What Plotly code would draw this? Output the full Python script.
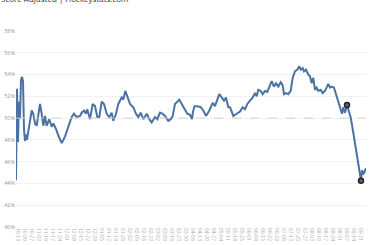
import plotly.graph_objects as go
import pandas as pd

# --- data ---
day = [0, 1, 2, 3, 4, 5, 6, 7, 8, 9, 10, 11, 12, 14, 15.7, 17.3, 19, 20.7, 22.5, 24, 25.7, 27.3, 29, 30.7,
       33.3, 35.7, 37.3, 40, 42.3, 45.7, 49, 52.3, 55.7, 58, 60.7, 64, 65.7, 68, 70, 71.3, 74, 76.7, 79,
       81.3, 83.3, 85.7, 88, 90.7, 93.3, 95.7, 97.3, 100, 102.3, 105.7, 107.3, 109.3, 111.3, 114, 117.3,
       120, 122.3, 124.7, 127.3, 130.7, 133.3, 135.7, 139, 141.3, 144, 146.7, 149, 152.3, 154.7, 156.7,
       159, 161.3, 163.3, 165.7, 169, 171.3, 174, 176, 177, 178.5, 181.3, 184.7, 187.3, 190, 193.3,
       196.7, 199, 201.3, 203.3, 205.7, 208, 210, 212.3, 214, 217.3, 220.7, 224, 226.7, 229, 231.3,
       234, 236.7, 239, 240.7, 242.3, 244.7, 246.7, 249, 251.3, 253.3, 255.7, 258, 260, 262.3, 264.7,
       266.7, 268, 270, 272.3, 274.7, 276.7, 279, 281.3, 283.3, 284.7, 286.7, 288, 290, 292.3, 294,
       295.7, 297.3, 299, 300.7, 302.3, 304.7, 306.7, 309, 310.7, 312.3, 314, 315.7, 318, 320, 322.3,
       324, 326, 327.3, 329, 331, 332.7, 334.7, 336.7, 339, 341.3, 343.3, 345, 346, 347.3, 348.7, 350]
pct = [44.3, 52.7, 47.8, 51.5, 50.0, 53.5, 53.8, 53.4, 49.0, 47.9, 48.5, 48.0, 48.6, 49.8, 50.7, 50.4,
       49.5, 49.3, 50.5, 51.3, 50.4, 49.3, 50.2, 49.3, 49.9, 49.2, 49.5, 49.0, 48.4, 47.7, 48.3, 49.2,
       50.1, 50.4, 50.1, 50.2, 50.5, 50.7, 50.4, 50.8, 49.9, 51.3, 51.1, 50.1, 50.1, 51.5, 51.3, 50.4,
       50.1, 50.5, 49.75, 50.4, 51.3, 51.9, 51.7, 52.5, 51.9, 51.3, 51.0, 50.4, 50.1, 50.5, 49.9, 50.4,
       49.9, 49.6, 50.1, 49.9, 50.5, 50.4, 50.2, 49.75, 49.9, 50.2, 51.3, 51.5, 51.7, 51.3, 50.7, 50.4,
       50.3, 49.9, 50.6, 51.1, 51.1, 51.0, 50.7, 50.2, 50.7, 51.4, 51.1, 51.7, 52.2, 51.9, 51.6, 51.9,
       51.0, 51.0, 50.2, 50.4, 50.6, 51.0, 50.8, 51.3, 51.6, 51.9, 52.3, 52.0, 52.6, 52.5, 52.2, 52.5,
       52.4, 52.9, 53.4, 52.9, 53.2, 52.9, 53.3, 53.0, 52.2, 52.3, 52.2, 52.5, 53.7, 54.3, 54.45, 54.75,
       54.45, 54.6, 54.3, 54.45, 54.0, 53.85, 53.2, 53.7, 52.6, 52.8, 52.5, 52.6, 52.3, 52.5, 52.9,
       53.15, 52.8, 52.9, 52.8, 52.2, 51.4, 51.1, 50.4, 51.0, 50.5, 51.2, 50.7, 50.05, 49.0, 47.6, 46.1,
       45.1, 44.25, 45.2, 44.85, 45.1, 45.4]
marker_days = [331, 345]
marker_pct = [51.2, 44.25]

tick_days = list(range(2, 350, 7))
tick_labels = list(pd.date_range("2020-10-13", periods=len(tick_days), freq="7D").strftime("%m-%d"))
y_ticks = [40, 42, 44, 46, 48, 50, 52, 54, 56, 58]
y_labels = [f"{v}%" for v in y_ticks]

fig = go.Figure()
fig.add_trace(go.Scatter(x=day, y=pct, mode="lines",
                         line=dict(color="#4a72a2", width=2), hoverinfo="skip"))
fig.add_trace(go.Scatter(x=marker_days, y=marker_pct, mode="markers",
                         marker=dict(size=5, color="#666666", line=dict(color="#222222", width=1.5))))
fig.add_hline(y=50, line=dict(color="#d0d0d0", width=1, dash="dash"))

fig.update_layout(
    width=370, height=245, showlegend=False,
    margin=dict(l=16, r=4, t=31, b=16),
    plot_bgcolor="white", paper_bgcolor="white",
    font=dict(family="Open Sans", color="#999999"),
    xaxis=dict(range=[0, 350], tickmode="array", tickvals=tick_days, ticktext=tick_labels,
               tickangle=90, tickfont=dict(size=5, color="#aaaaaa"), showgrid=False,
               zeroline=False, showline=False, ticks=""),
    yaxis=dict(range=[40, 58], tickmode="array", tickvals=y_ticks, ticktext=y_labels,
               tickfont=dict(size=5.5, color="#999999"), gridcolor="#f2f2f2", gridwidth=1,
               zeroline=False, showline=False, ticks=""),
    annotations=[dict(text="Score Adjusted | Hockeystats.com", xref="paper", yref="paper",
                      x=-17/350, y=1 + 25.5/198, xanchor="left", yanchor="bottom", showarrow=False,
                      font=dict(size=8, color="#333333", family="Open Sans"))],
)
fig.write_html("out.html")
